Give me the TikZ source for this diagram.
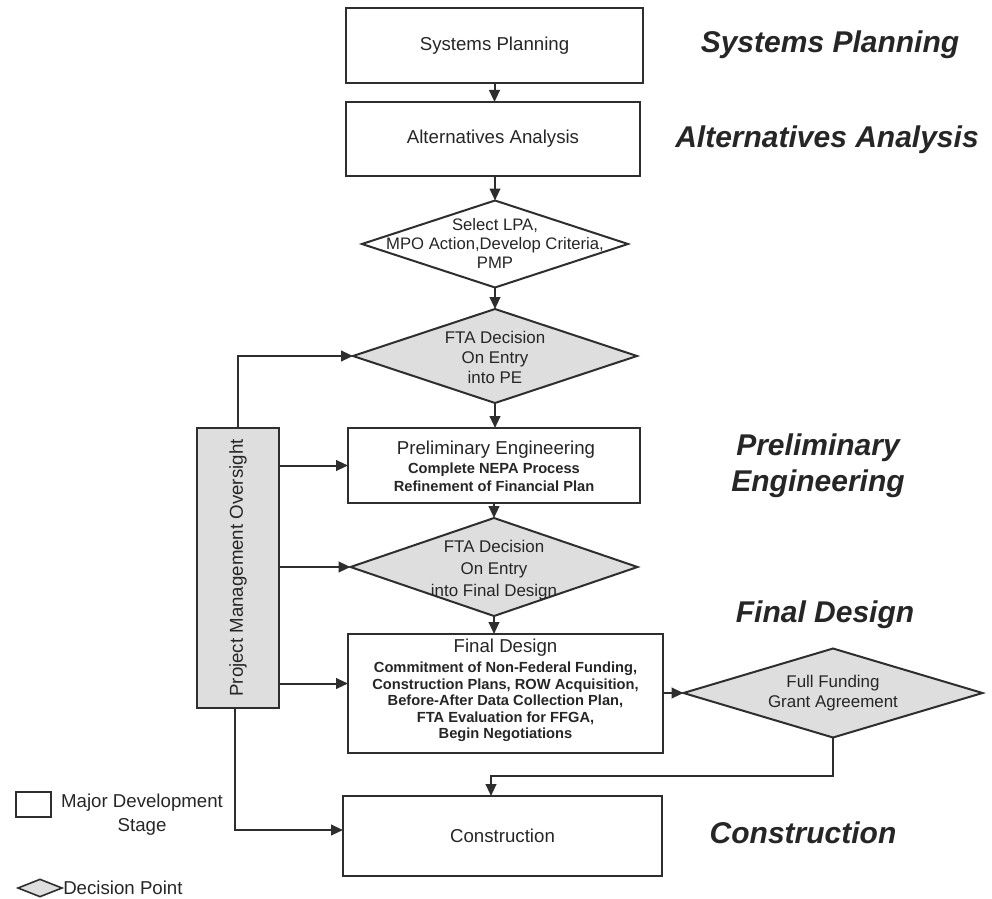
\documentclass[tikz,border=0pt]{standalone}
\usepackage{fontspec}
\setmainfont{Liberation Sans}
\usetikzlibrary{shapes.geometric,arrows.meta,calc}
\definecolor{linec}{HTML}{2E2E2E}
\definecolor{txtc}{HTML}{262626}
\definecolor{fillg}{HTML}{DEDEDE}
\begin{document}
\begin{tikzpicture}[x=0.75pt,y=-0.75pt,
  box/.style={draw=linec,line width=1.5pt,fill=white,inner sep=0pt,outer sep=0pt,text=txtc,font=\fontsize{14}{17}\selectfont},
  dia/.style={diamond,draw=linec,line width=1.5pt,fill=fillg,inner sep=0pt,outer sep=0pt},
  diatext/.style={align=center,text=txtc,font=\fontsize{12.7}{15}\selectfont},
  small/.style={align=center,text=txtc,font=\fontsize{11}{12.4}\selectfont\bfseries},
  phase/.style={align=center,text=txtc,font=\fontsize{22.5}{27}\selectfont\bfseries\itshape},
  arr/.style={draw=linec,line width=1.5pt,-{Triangle[length=9pt,width=8pt]}},
  ln/.style={draw=linec,line width=1.5pt}]
\useasboundingbox (0,0) rectangle (992,899);

% main column
\node[box,minimum width=222.75pt,minimum height=56.25pt] (sp) at (494.5,45.5) {Systems Planning};
\node[box,minimum width=220.5pt,minimum height=55.5pt] (aa) at (493,139) {Alternatives Analysis};
\node[dia,fill=white,minimum width=199.5pt,minimum height=65.25pt] (sel) at (495,244) {};
\node[diatext,font=\fontsize{12.5}{14.25}\selectfont] (selt) at (495,243) {Select LPA,\\MPO Action,Develop Criteria,\\PMP};
\node[dia,minimum width=213pt,minimum height=70.5pt] (ftape) at (495,356) {};
\node[diatext] (ftapet) at (495,357) {FTA Decision\\On Entry\\into PE};
\node[box,minimum width=219pt,minimum height=56.25pt] (pe) at (494,465.5) {};
\node[text=txtc,font=\fontsize{14}{17}\selectfont] (pet) at (496,450) {Preliminary Engineering};
\node[small,font=\fontsize{11}{13.5}\selectfont\bfseries] (peb) at (494,477) {Complete NEPA Process\\Refinement of Financial Plan};
\node[dia,minimum width=215.25pt,minimum height=73.5pt] (ftafd) at (494,567) {};
\node[diatext,font=\fontsize{12.7}{16.5}\selectfont] (ftafdt) at (494,570) {FTA Decision\\On Entry\\into Final Design};
\node[box,minimum width=236.25pt,minimum height=89.25pt] (fd) at (505.5,693.5) {};
\node[text=txtc,font=\fontsize{14}{17}\selectfont] (fdt) at (505.5,648) {Final Design};
\node[small] (fdb) at (505.5,702) {Commitment of Non-Federal Funding,\\Construction Plans, ROW Acquisition,\\Before-After Data Collection Plan,\\FTA Evaluation for FFGA,\\Begin Negotiations};
\node[dia,minimum width=224.25pt,minimum height=66.75pt] (ffga) at (833,693) {};
\node[diatext] (ffgat) at (833,693) {Full Funding\\Grant Agreement};
\node[box,minimum width=239.25pt,minimum height=60pt] (cons) at (502.5,836) {Construction};

% project management oversight
\node[box,fill=fillg,minimum width=61.5pt,minimum height=210pt] (pmo) at (238,568) {};
\node[text=txtc,font=\fontsize{14}{17}\selectfont,rotate=90] (pmot) at (238,568) {Project Management Oversight};

% phase labels
\node[phase] (l1) at (830,45) {Systems Planning};
\node[phase] (l2) at (827,140) {Alternatives Analysis};
\node[phase] (l3) at (818,466) {Preliminary\\Engineering};
\node[phase] (l4) at (825,615) {Final Design};
\node[phase] (l5) at (803,833) {Construction};

% legend
\node[box,minimum width=26.25pt,minimum height=18.75pt] (lgbox) at (33.5,804.5) {};
\node[align=center,text=txtc,font=\fontsize{14}{18}\selectfont] (lgboxt) at (142,815) {Major Development\\Stage};
\node[dia,line width=1.2pt,minimum width=33pt,minimum height=13pt] (lgdia) at (40,888) {};
\node[anchor=west,inner sep=0pt,text=txtc,font=\fontsize{14}{17}\selectfont] (lgdiat) at (63,888) {Decision Point};

% flow connectors
\draw[arr] (sp.south) -- (sp.south |- aa.north);
\draw[arr] (sel.north |- aa.south) -- (sel.north);
\draw[arr] (sel.south) -- (ftape.north);
\draw[arr] (ftape.south) -- (ftape.south |- pe.north);
\draw[arr] (ftafd.north |- pe.south) -- (ftafd.north);
\draw[arr] (ftafd.south) -- (ftafd.south |- fd.north);
\draw[arr] (fd.east |- ffga.west) -- (ffga.west);
\coordinate (jn) at ($(ffga.south)+(0,38)$);
\coordinate (constop) at ($(cons.north)+(-11.5,0)$);
\draw[arr] (ffga.south) -- (jn) -| (constop);

% oversight connectors
\draw[arr] (pmo.north) |- (ftape.west);
\draw[arr] (pmo.east |- pe.west) -- (pe.west);
\draw[arr] (pmo.east |- ftafd.west) -- (ftafd.west);
\coordinate (fdin) at ($(fd.west)+(0,-10)$);
\draw[arr] (pmo.east |- fdin) -- (fdin);
\coordinate (consin) at ($(cons.west)+(0,-6)$);
\coordinate (pmob) at ($(pmo.south)+(-3,0)$);
\draw[arr] (pmob) |- (consin);
\end{tikzpicture}
\end{document}
